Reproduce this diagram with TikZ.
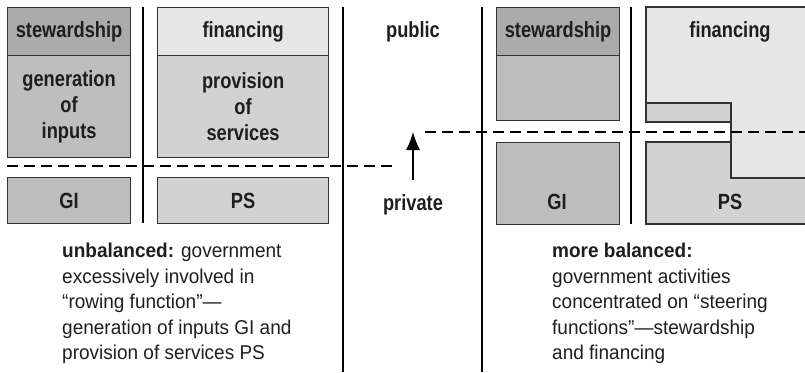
\documentclass[tikz,border=0pt]{standalone}
\usepackage{fontspec}
\setmainfont[FakeStretch=0.95]{Liberation Sans}
\newfontfamily\boxfont[FakeStretch=0.83]{Liberation Sans}
\usetikzlibrary{arrows.meta}

\definecolor{stewgray}{HTML}{ABABAB}
\definecolor{rowgray}{HTML}{BEBEBE}
\definecolor{fingray}{HTML}{E6E6E7}
\definecolor{provgray}{HTML}{D2D2D3}
\definecolor{edgegray}{HTML}{333333}
\definecolor{inkgray}{HTML}{1E1E1E}

\tikzset{
  box/.style={draw=edgegray, line width=1.2pt, anchor=north west, inner sep=0pt,
    align=center, text=inkgray, font=\boxfont\bfseries\fontsize{22}{26}\selectfont},
  boxedge/.style={draw=edgegray, line width=1.2pt},
  lbl/.style={font=\boxfont\bfseries\fontsize{22}{26}\selectfont, text=inkgray, inner sep=0pt},
  divide/.style={line width=2.4pt},
  split/.style={line width=1.1pt},
  border/.style={line width=2pt, dash pattern=on 11pt off 6pt},
  note/.style={anchor=north west, align=left, inner sep=0pt, text=inkgray,
    font=\fontsize{20}{25.5}\selectfont}
}

\begin{document}
\begin{tikzpicture}[x=1pt,y=-1pt]
\useasboundingbox (0,0) rectangle (805,372);
% unbalanced
\node[box,fill=stewgray,minimum width=123pt,minimum height=48pt] (stewL) at (7,7) {stewardship};
\node[box,fill=rowgray,minimum width=123pt,minimum height=102pt] (genL) at (7,55) {generation\\of\\inputs};
\node[box,fill=fingray,minimum width=171pt,minimum height=48pt] (finL) at (157,7) {financing};
\node[box,fill=provgray,minimum width=171pt,minimum height=102pt] (provL) at (157,55) {provision\\of\\services};
\node[box,fill=rowgray,minimum width=123pt,minimum height=46pt] (giL) at (7,177) {GI};
\node[box,fill=provgray,minimum width=171pt,minimum height=46pt] (psL) at (157,177) {PS};
\draw[split] (143,7) -- (143,223);
\draw[border] (7,166) -- (398,166);
\node[note] (noteL) at (62,243) {\textbf{unbalanced:} government\\excessively involved in\\“rowing function”—\\generation of inputs GI and\\provision of services PS};
% public / private
\draw[divide] (343,7) -- (343,372);
\draw[divide] (482,7) -- (482,372);
\node[lbl] (public) at (413,32) {public};
\node[lbl] (private) at (413,205) {private};
\coordinate (shiftfrom) at (413,180);
\coordinate (shiftto) at (413,132);
\draw[-{Latex[length=18pt,width=14pt]},line width=1.2pt] (shiftfrom) -- (shiftto);
% more balanced
\node[box,fill=stewgray,minimum width=123pt,minimum height=48pt] (stewR) at (496,7) {stewardship};
\node[box,fill=rowgray,minimum width=123pt,minimum height=65pt] (genR) at (496,55) {};
\node[box,fill=rowgray,minimum width=123pt,minimum height=82pt] (giR) at (496,142) {};
\node[lbl] at (557,202) {GI};
\draw[split] (631,7) -- (631,224);
\begin{scope}
\clip (0,0) rectangle (805,372);
\draw[boxedge,fill=fingray] (646,7) -- (830,7) -- (830,178) -- (731,178) -- (731,103) -- (646,103) -- cycle;
\draw[boxedge,fill=provgray] (646,103) rectangle (731,122);
\draw[boxedge,fill=provgray] (646,142) -- (731,142) -- (731,178) -- (830,178) -- (830,224) -- (646,224) -- cycle;
\end{scope}
\node[lbl] (finR) at (730,32) {financing};
\node[lbl] (psR) at (730,202) {PS};
\draw[border] (425,132) -- (805,132);
\node[note] (noteR) at (552,243) {\textbf{more balanced:}\\government activities\\concentrated on “steering\\functions”—stewardship\\and financing};
\end{tikzpicture}
\end{document}
